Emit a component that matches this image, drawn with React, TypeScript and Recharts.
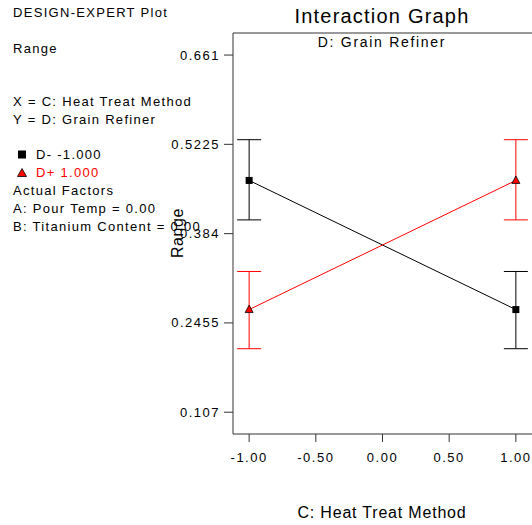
import React from 'react';
import { LineChart, Line, XAxis, YAxis, ErrorBar, ReferenceLine } from 'recharts';

// ---- data ----
const heatTreat = [-1, 1];
const dMinusMean = [0.4665, 0.2662];
const dMinusLow = [0.4053, 0.2055];
const dMinusHigh = [0.5297, 0.3253];
const dPlusMean = [0.2662, 0.4665];
const dPlusLow = [0.2055, 0.4053];
const dPlusHigh = [0.3253, 0.5297];
const xTicks = [-1, -0.5, 0, 0.5, 1];
const yTicks = [0.107, 0.2455, 0.384, 0.5225, 0.661];
const xDomain = [-1.121, 1.121];
const yDomain = [0.0732, 0.6952];
const infoLines = [
  'Actual Factors',
  'A: Pour Temp = 0.00',
  'B: Titanium Content = 0.00',
];

const tableData = heatTreat.map((x, i) => ({
  x,
  dm: dMinusMean[i],
  dmErr: [dMinusMean[i] - dMinusLow[i], dMinusHigh[i] - dMinusMean[i]],
  dp: dPlusMean[i],
  dpErr: [dPlusMean[i] - dPlusLow[i], dPlusHigh[i] - dPlusMean[i]],
}));

const FONT = '"Liberation Sans", Arial, Helvetica, sans-serif';
const RED = '#ff0000';

const XTick = (props: any) => {
  const { x, y, payload } = props;
  return (
    <text x={x} y={y} dy={18} textAnchor="middle" fontSize={13} fontFamily={FONT} letterSpacing={1.5} fill="#000">
      {Number(payload.value).toFixed(2)}
    </text>
  );
};

const YTick = (props: any) => {
  const { x, y, payload } = props;
  return (
    <text x={x - 2} y={y} dy={4.5} textAnchor="end" fontSize={13} fontFamily={FONT} letterSpacing={1.5} fill="#000">
      {String(payload.value)}
    </text>
  );
};

const SquareDot = (props: any) => {
  const { cx, cy, index } = props;
  if (cx == null || cy == null) return <g key={`sq-${index}`} />;
  return <rect key={`sq-${index}`} x={cx - 3.5} y={cy - 3.5} width={7} height={7} fill="#000" />;
};

const TriDot = (props: any) => {
  const { cx, cy, index } = props;
  if (cx == null || cy == null) return <g key={`tr-${index}`} />;
  return (
    <polygon
      key={`tr-${index}`}
      points={`${cx},${cy - 4.5} ${cx - 4},${cy + 3} ${cx + 4},${cy + 3}`}
      fill={RED}
      stroke="#000"
      strokeWidth={0.8}
    />
  );
};

export default function App() {
  return (
    <div style={{ position: 'absolute', left: 0, top: 0, width: 532, height: 525, background: '#fff' }}>
      <LineChart
        width={532}
        height={525}
        data={tableData}
        margin={{ top: 33, right: 0, bottom: 61, left: 173 }}
      >
        <XAxis
          dataKey="x"
          type="number"
          domain={xDomain}
          ticks={xTicks}
          allowDataOverflow
          height={30}
          tickSize={8}
          tick={<XTick />}
          stroke="#333"
          tickLine={{ stroke: '#333' }}
        />
        <YAxis
          type="number"
          domain={yDomain}
          ticks={yTicks}
          allowDataOverflow
          width={60}
          tickSize={9}
          tick={<YTick />}
          stroke="#333"
          tickLine={{ stroke: '#333' }}
        />
        <ReferenceLine y={yDomain[1]} stroke="#333" ifOverflow="extendDomain" />
        <Line
          dataKey="dm"
          stroke="#000"
          strokeWidth={1}
          isAnimationActive={false}
          dot={<SquareDot />}
          activeDot={false}
        >
          <ErrorBar dataKey="dmErr" width={12} stroke="#000" strokeWidth={1} direction="y" isAnimationActive={false} />
        </Line>
        <Line
          dataKey="dp"
          stroke={RED}
          strokeWidth={1}
          isAnimationActive={false}
          dot={<TriDot />}
          activeDot={false}
        >
          <ErrorBar dataKey="dpErr" width={12} stroke={RED} strokeWidth={1} direction="y" isAnimationActive={false} />
        </Line>
      </LineChart>
      <svg
        width={532}
        height={525}
        style={{ position: 'absolute', left: 0, top: 0, pointerEvents: 'none' }}
        fontFamily={FONT}
      >
        <text x={13} y={17} fontSize={13} letterSpacing={1.3} fill="#000">DESIGN-EXPERT Plot</text>
        <text x={13} y={53} fontSize={13} letterSpacing={1.3} fill="#000">Range</text>
        <text x={13} y={106} fontSize={13} letterSpacing={1.3} fill="#000">X = C: Heat Treat Method</text>
        <text x={13} y={124} fontSize={13} letterSpacing={1.3} fill="#000">Y = D: Grain Refiner</text>
        <rect x={18} y={150.5} width={8} height={8} fill="#000" />
        <text x={36} y={159} fontSize={13} letterSpacing={1.3} fill="#000">D- -1.000</text>
        <polygon points="22,168.5 17.5,176.5 26.5,176.5" fill={RED} stroke="#000" strokeWidth={0.8} />
        <text x={36} y={177} fontSize={13} letterSpacing={1.3} fill={RED}>D+ 1.000</text>
        {infoLines.map((t, i) => (
          <text key={t} x={13} y={195 + i * 18} fontSize={13} letterSpacing={1.3} fill="#000">{t}</text>
        ))}
        <text x={382} y={23} fontSize={20} letterSpacing={1.2} textAnchor="middle" fill="#000">Interaction Graph</text>
        <text x={382} y={47} fontSize={14} letterSpacing={1.7} textAnchor="middle" fill="#000">D: Grain Refiner</text>
        <text x={382} y={518} fontSize={16} letterSpacing={0.8} textAnchor="middle" fill="#000">C: Heat Treat Method</text>
        <text
          x={183}
          y={233}
          fontSize={16}
          letterSpacing={0.6}
          textAnchor="middle"
          transform="rotate(-90 183 233)"
          fill="#000"
        >
          Range
        </text>
      </svg>
    </div>
  );
}
